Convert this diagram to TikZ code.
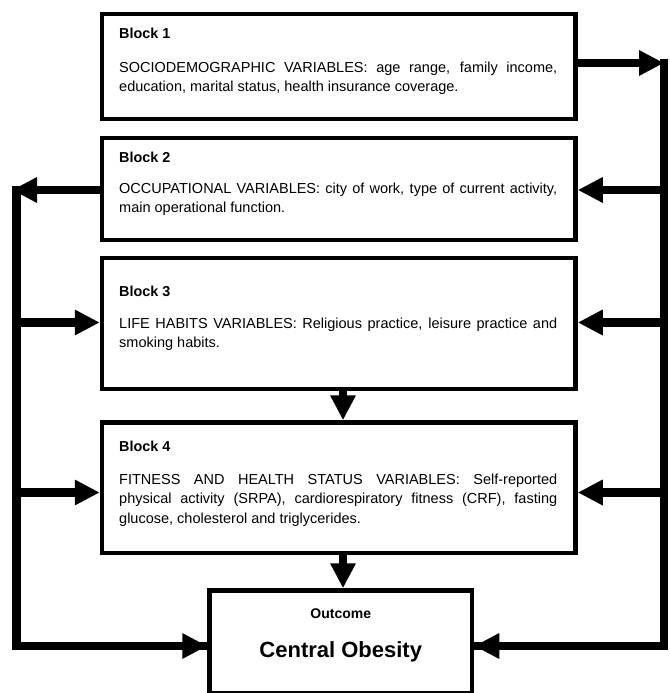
\documentclass[tikz,border=0pt]{standalone}
\usepackage{fontspec}
\setmainfont{Liberation Sans}
\usetikzlibrary{arrows.meta}
\begin{document}
\begin{tikzpicture}[x=1pt,y=-1pt,
  blk/.style={draw=black, line width=4.5pt, inner sep=0pt, rectangle},
  rail/.style={line width=8.5pt},
  arr/.style={line width=8.5pt, -{Triangle[length=25pt,width=24pt]}},
  btitle/.style={anchor=base west, inner sep=0pt, font=\fontsize{14.4}{17}\selectfont\bfseries},
  btext/.style={anchor=base west, inner sep=0pt, font=\fontsize{14.5}{19.5}\selectfont}]
\useasboundingbox (0,0) rectangle (669,693);
% boxes
\node[blk, minimum width=473.5pt, minimum height=105pt] (b1) at (338.75,66.5) {};
\node[blk, minimum width=473.5pt, minimum height=102pt] (b2) at (338.75,189) {};
\node[blk, minimum width=473.5pt, minimum height=131pt] (b3) at (338.75,323.5) {};
\node[blk, minimum width=473.5pt, minimum height=130.5pt] (b4) at (338.75,487.75) {};
\node[blk, minimum width=262.5pt, minimum height=103pt] (out) at (340.75,642) {};
% texts
\node[btitle] (t1) at (119,38) {Block 1};
\node[btext] (x1) at (119,72) {\parbox[t]{438pt}{SOCIODEMOGRAPHIC VARIABLES: age range, family income,\linebreak education, marital status, health insurance coverage.}};
\node[btitle] (t2) at (119,162) {Block 2};
\node[btext] (x2) at (119,193) {\parbox[t]{438pt}{OCCUPATIONAL VARIABLES: city of work, type of current activity,\linebreak main operational function.}};
\node[btitle] (t3) at (119,296) {Block 3};
\node[btext] (x3) at (119,328) {\parbox[t]{438pt}{LIFE HABITS VARIABLES: Religious practice, leisure practice and\linebreak smoking habits.}};
\node[btitle] (t4) at (119,451) {Block 4};
\node[btext] (x4) at (119,484) {\parbox[t]{438pt}{FITNESS AND HEALTH STATUS VARIABLES: Self-reported\linebreak physical activity (SRPA), cardiorespiratory fitness (CRF), fasting\linebreak glucose, cholesterol and triglycerides.}};
\node[inner sep=0pt, font=\fontsize{14}{16}\selectfont\bfseries] (ot) at (340.75,614) {Outcome};
\node[inner sep=0pt, font=\fontsize{22}{26}\selectfont\bfseries] (oc) at (340.75,652) {Central Obesity};
% rail coordinates
\coordinate (rtop) at (664,59);
\coordinate (r1) at (664,63);
\coordinate (r2) at (664,190);
\coordinate (r3) at (664,322.5);
\coordinate (r4) at (664,492.5);
\coordinate (r5) at (664,646);
\coordinate (ltop) at (16.5,186);
\coordinate (l2) at (12,190);
\coordinate (l3) at (16.5,322.5);
\coordinate (l4) at (16.5,492.5);
\coordinate (l5) at (16.5,646);
% right rail
\draw[arr] (b1.east |- r1) -- (r1);
\draw[rail] (rtop) -- (r5) -- (out.east |- r5);
\draw[arr] (r5) -- (out.east |- r5);
\draw[arr] (r2) -- (b2.east |- r2);
\draw[arr] (r3) -- (b3.east |- r3);
\draw[arr] (r4) -- (b4.east |- r4);
% left rail
\draw[arr] (b2.west |- l2) -- (l2);
\draw[rail] (ltop) -- (l5) -- (out.west |- l5);
\draw[arr] (l5) -- (out.west |- l5);
\draw[arr] (l3) -- (b3.west |- l3);
\draw[arr] (l4) -- (b4.west |- l4);
% vertical
\draw[arr] (b3.south -| 343,0) -- (b4.north -| 343,0);
\draw[arr] (b4.south -| 343,0) -- (out.north -| 343,0);
\end{tikzpicture}
\end{document}
